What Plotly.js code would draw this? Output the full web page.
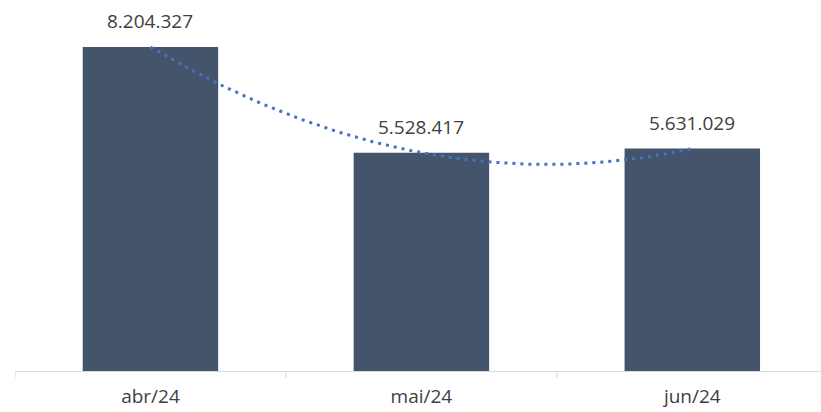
<!DOCTYPE html>
<html><head><meta charset="utf-8">
<script src="https://cdn.plot.ly/plotly-3.0.1.min.js"></script>
<style>html,body{margin:0;padding:0;background:#fff}#c{width:821px;height:412px}</style>
</head><body><div id="c"></div>
<script>
const categories = ["abr/24", "mai/24", "jun/24"];
const values = [8204327, 5528417, 5631029];

// 2nd-order polynomial trendline through the series (as in the original chart)
const idx = values.map((_, i) => i);
const a = (values[0] - 2 * values[1] + values[2]) / 2;
const b = values[1] - values[0] - a;
const c = values[0];
const tx = [], ty = [];
for (let k = 0; k <= 100; k++) { const x = 2 * k / 100; tx.push(x); ty.push(a * x * x + b * x + c); }

const font = "Open Sans, Liberation Sans, sans-serif";
const traces = [
  { type: "bar", x: idx, y: values, marker: { color: "#44546A" }, width: 0.5, hoverinfo: "skip" },
  { type: "scatter", mode: "lines", x: tx, y: ty, line: { color: "#4472C4", width: 3, dash: "3px,5px" }, hoverinfo: "skip" }
];
const annotations = values.map((v, i) => ({
  x: i, y: v, xref: "x", yref: "y", text: v.toLocaleString("de-DE"), showarrow: false,
  yanchor: "bottom", yshift: 11, font: { family: font, size: 19, color: "#404040" }
}));
const layout = {
  width: 821, height: 412, showlegend: false, separators: ",.",
  margin: { l: 15, r: 0, t: 10, b: 41 },
  paper_bgcolor: "#fff", plot_bgcolor: "#fff",
  xaxis: { range: [-0.5, 2.475], tickvals: idx, ticktext: categories, showgrid: false, zeroline: false,
    showline: true, linecolor: "#d9d9d9", linewidth: 1, ticks: "", ticklabelstandoff: 8,
    tickfont: { family: font, size: 19, color: "#404040" } },
  yaxis: { range: [0, 9140000], visible: false, showgrid: false, zeroline: false },
  annotations
};
layout.shapes = [-0.5, 0.5, 1.5].map(x => ({ type: "line", xref: "x", yref: "paper", x0: x, x1: x, y0: 0, y1: -7, ysizemode: "pixel", yanchor: 0,
  line: { color: "#d9d9d9", width: 1 } }));
Plotly.newPlot("c", traces, layout, { displayModeBar: false, staticPlot: true });
</script></body></html>
